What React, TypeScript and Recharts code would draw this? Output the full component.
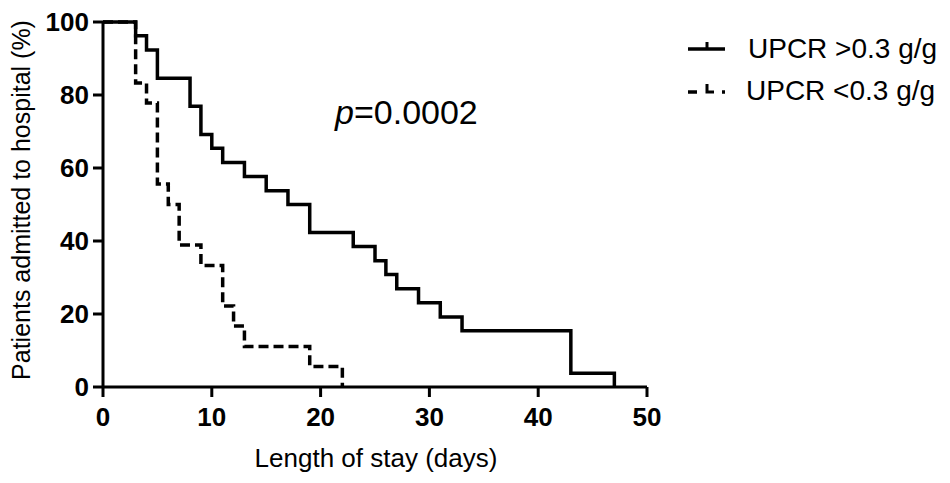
import React from 'react';
import { LineChart, Line, XAxis, YAxis, Label } from 'recharts';

// Kaplan-Meier steps: day of event, % still admitted
const highDays = [0, 3, 4, 5, 8, 9, 10, 11, 13, 15, 17, 19, 23, 25, 26, 27, 29, 31, 33, 43, 47];
const highPct = [100, 96.2, 92.3, 84.6, 76.9, 69.2, 65.4, 61.5, 57.7, 53.8, 50, 42.3, 38.5, 34.6, 30.8, 26.9, 23.1, 19.2, 15.4, 3.8, 0];

const lowDays = [0, 3, 4, 5, 6, 7, 9, 11, 12, 13, 19, 22];
const lowPct = [100, 83.3, 77.8, 55.6, 50, 38.9, 33.3, 22.2, 16.7, 11.1, 5.6, 0];

const xTicks = [0, 10, 20, 30, 40, 50];
const yTicks = [0, 20, 40, 60, 80, 100];

const seriesNames = ['UPCR >0.3 g/g', 'UPCR <0.3 g/g'];

const highData = highDays.map((d, i) => ({ d, v: highPct[i] }));
const lowData = lowDays.map((d, i) => ({ d, v: lowPct[i] }));

const FONT = '"Liberation Sans", Arial, sans-serif';

function LegendBox() {
  return (
    <svg width={270} height={100} style={{ position: 'absolute', left: 680, top: 20 }}>
      {/* solid sample with censor tick */}
      <line x1={8} y1={29} x2={45} y2={29} stroke="#000" strokeWidth={3.5} />
      <line x1={27} y1={29} x2={27} y2={22} stroke="#000" strokeWidth={3} />
      <text x={68} y={38} fontFamily={FONT} fontSize={28} fill="#000">{seriesNames[0]}</text>
      {/* dashed sample */}
      <line x1={8} y1={72} x2={17} y2={72} stroke="#000" strokeWidth={3.5} />
      <polyline points="27,64 27,72 34,72" fill="none" stroke="#000" strokeWidth={3} />
      <line x1={42} y1={72} x2={45} y2={72} stroke="#000" strokeWidth={3.5} />
      <text x={66} y={80} fontFamily={FONT} fontSize={28} fill="#000">{seriesNames[1]}</text>
    </svg>
  );
}

export default function App() {
  return (
    <div style={{ position: 'absolute', left: 0, top: 0, width: 950, height: 483, background: '#fff' }}>
      <LineChart
        width={950}
        height={483}
        margin={{ top: 22, right: 303, bottom: 36, left: 8 }}
      >
        <XAxis
          type="number"
          dataKey="d"
          domain={[0, 50]}
          ticks={xTicks}
          allowDataOverflow
          height={60}
          axisLine={{ stroke: '#000', strokeWidth: 3 }}
          tickLine={{ stroke: '#000', strokeWidth: 3 }}
          tickSize={10}
          tickMargin={11}
          tick={{ fill: '#000', fontSize: 26, fontWeight: 'bold', fontFamily: FONT }}
        >
          <Label
            content={() => (
              <text x={376} y={467} textAnchor="middle" fontFamily={FONT} fontSize={26} fill="#000">
                Length of stay (days)
              </text>
            )}
          />
        </XAxis>
        <YAxis
          type="number"
          domain={[0, 100]}
          ticks={yTicks}
          width={95}
          axisLine={{ stroke: '#000', strokeWidth: 3 }}
          tickLine={{ stroke: '#000', strokeWidth: 3 }}
          tickSize={10}
          tickMargin={4}
          tick={{ fill: '#000', fontSize: 26, fontWeight: 'bold', fontFamily: FONT }}
        >
          <Label
            content={() => (
              <text
                x={30}
                y={200}
                transform="rotate(-90, 30, 200)"
                textAnchor="middle"
                fontFamily={FONT}
                fontSize={25}
                fill="#000"
              >
                Patients admitted to hospital (%)
              </text>
            )}
          />
        </YAxis>
        <Line
          data={highData}
          dataKey="v"
          type="stepAfter"
          stroke="#000"
          strokeWidth={3.5}
          dot={false}
          activeDot={false}
          isAnimationActive={false}
          name={seriesNames[0]}
        />
        <Line
          data={lowData}
          dataKey="v"
          type="stepAfter"
          stroke="#000"
          strokeWidth={3.5}
          strokeDasharray="10 5"
          dot={false}
          activeDot={false}
          isAnimationActive={false}
          name={seriesNames[1]}
        />
      </LineChart>
      <LegendBox />
      <div
        style={{
          position: 'absolute',
          left: 335,
          top: 92,
          fontFamily: FONT,
          fontSize: 34,
          color: '#000',
          lineHeight: '40px',
          whiteSpace: 'nowrap',
        }}
      >
        <i>p</i>=0.0002
      </div>
    </div>
  );
}
